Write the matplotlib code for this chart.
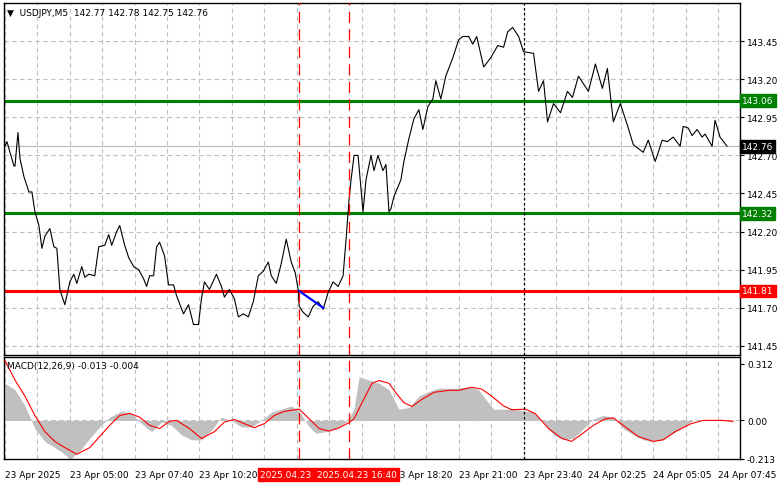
import matplotlib
matplotlib.use("Agg")
import matplotlib.pyplot as plt

# ---- data (x in chart units: 1 unit ~ one 5-minute bar) ----
price_x = [0,1,2.5,4.5,5,6.5,7.5,9.5,12,13.5,15,17,18.5,20,22.5,24.5,26,27.5,30,32.5,34.5,36,38.5,40,42,45,47,50,52,53.5,56,57.5,60,62,64.5,67,69.5,71,72.5,74.5,76,77.5,80,82,84.5,86,89.5,92,94.5,97,98.5,100,102.5,106,108.5,110,112.5,115,117,119.5,122,124.5,127,129.5,132,133.5,136,138.5,141,143.5,145.5,147,147.5,149.5,152,154.5,157,159.5,162,164.5,167,169.5,171,172.5,173.5,175,177,179.5,181,183.5,185,187,189.5,191,192.5,
           193.5,195,198.5,200,202.5,205,207.5,209.5,212,214.5,216,218.5,221,224.5,227.5,229.5,232.5,234.5,236.5,240,243.5,247,250,252,254.5,257.5,260,265,267.5,270,272,275,278.5,282,284.5,287.5,292.5,296,299.5,302,305,308.5,312,315,320,322.5,326,329.5,332,335,338.5,340,342.5,344.5,347,349.5,351,354.5,356,358.5,362]
price_y = [142.76,142.79,142.72,142.63,142.63,142.85,142.68,142.56,142.46,142.46,142.33,142.24,142.09,142.17,142.22,142.10,142.09,141.82,141.72,141.87,141.92,141.86,141.97,141.90,141.92,141.91,142.10,142.11,142.18,142.11,142.20,142.24,142.11,142.03,141.97,141.95,141.89,141.84,141.91,141.91,142.10,142.13,142.04,141.85,141.85,141.78,141.66,141.72,141.59,141.59,141.76,141.87,141.82,141.92,141.84,141.77,141.82,141.76,141.64,141.66,141.64,141.74,141.91,141.94,142.00,141.91,141.86,141.99,142.15,142.00,141.93,141.82,141.71,141.67,141.64,141.71,141.74,141.69,141.80,141.87,141.84,141.91,142.15,142.41,142.54,142.70,142.70,142.33,142.54,142.70,142.60,142.70,142.60,142.64,142.33,
           142.35,142.43,142.54,142.66,142.81,142.94,143.00,142.87,143.02,143.07,143.19,143.07,143.22,143.34,143.46,143.48,143.48,143.43,143.48,143.28,143.34,143.42,143.41,143.51,143.54,143.48,143.38,143.37,143.12,143.19,142.92,143.04,142.98,143.12,143.08,143.22,143.12,143.30,143.14,143.27,142.92,143.04,142.90,142.77,142.72,142.80,142.66,142.80,142.79,142.82,142.76,142.89,142.88,142.83,142.87,142.82,142.84,142.76,142.93,142.82,142.76]

hist_x = [0,5,10,15,20,25,30,32.5,37.5,42.5,47.5,52.5,58.5,63.5,68.5,73.5,78.5,83.5,88.5,93.5,98.5,103.5,108.5,113.5,118.5,123.5,128.5,133.5,138.5,143.5,147.5,152.5,156,161,166,171,175,177.5,182.5,187.5,192.5,197.5,202.5,207.5,212.5,217.5,222.5,227.5,232.5,237.5,241,245,250,255,260,265,270,275,280,285,290,295,300,305,310,315,320,325,330,335,340,345,350,355,360,365]
hist_v = [0.205,0.17,0.08,-0.045,-0.116,-0.15,-0.187,-0.214,-0.169,-0.098,-0.036,0.018,0.053,0.036,-0.018,-0.062,-0.009,-0.027,-0.08,-0.107,-0.107,-0.053,0.018,0.0,-0.036,-0.036,0.0,0.045,0.062,0.08,0.053,-0.036,-0.071,-0.062,-0.045,-0.009,0.062,0.24,0.223,0.205,0.17,0.062,0.071,0.134,0.16,0.178,0.178,0.178,0.187,0.169,0.116,0.062,0.062,0.062,0.053,0.045,-0.009,-0.08,-0.107,-0.098,-0.045,0.009,0.027,0.018,-0.045,-0.08,-0.107,-0.116,-0.107,-0.071,-0.036,0.0,0.0,0.0,0.0,-0.009]

sig_x = [0,5,10,15,20,25,30,36,42.5,47.5,52.5,57.5,62.5,67.5,72.5,77.5,82.5,86,92.5,98.5,105,110,115,120,125,130,135,140,147.5,152.5,157.5,162.5,167.5,172.5,175,179,184,187.5,192.5,196,200,204,209,215,222.5,227.5,234,239,244,250,254,261,266,272.5,279,284,289,295,301,305,311,317.5,325,330,336,344,350,360,365]
sig_v = [0.33,0.223,0.134,0.027,-0.062,-0.116,-0.15,-0.187,-0.15,-0.089,-0.027,0.027,0.039,0.018,-0.027,-0.045,-0.005,0.0,-0.045,-0.1,-0.062,-0.009,0.005,-0.018,-0.04,-0.018,0.027,0.05,0.062,0.009,-0.045,-0.059,-0.041,-0.012,0.009,0.098,0.205,0.22,0.205,0.152,0.098,0.077,0.116,0.155,0.166,0.166,0.183,0.173,0.134,0.08,0.059,0.062,0.036,-0.045,-0.098,-0.116,-0.077,-0.027,0.009,0.014,-0.036,-0.089,-0.116,-0.107,-0.062,-0.018,0.0,0.0,-0.005]

levels = [143.06, 142.32, 141.81]
level_colors = ["#008000", "#008000", "#ff0000"]
last_price = 142.76
price_ticks = [141.45, 141.70, 141.95, 142.20, 142.45, 142.70, 142.95, 143.20, 143.45]
macd_ticks = [0.312, 0.00, -0.213]
time_labels = ["23 Apr 2025", "23 Apr 05:00", "23 Apr 07:40", "23 Apr 10:20", "", "",
               "23 Apr 18:20", "23 Apr 21:00", "23 Apr 23:40", "24 Apr 02:25", "24 Apr 05:05", "24 Apr 07:45"]
marker_x = [147.5, 172.5]
marker_labels = ["2025.04.23", "2025.04.23 16:40"]
now_x = 260
blue_x = [147.5, 159.5]
blue_y = [141.81, 141.70]

XMIN, XMAX = -0.5, 368.5
plt.rcParams["font.family"] = "DejaVu Sans"
fig = plt.figure(figsize=(7.81, 4.89), dpi=100)
ax = fig.add_axes([4/781, 1-356/489, 736/781, 352/489])
ax2 = fig.add_axes([4/781, 1-460/489, 736/781, 102/489])
fs = 6.5
grid_kw = dict(color="#c0c0c0", linestyle=(0, (4, 3)), linewidth=0.8)
vgrid = [16.25 * k for k in range(0, 24)]

for a in (ax, ax2):
    a.set_xlim(XMIN, XMAX)
    for v in vgrid:
        a.axvline(v, zorder=0, **grid_kw)
    for s in a.spines.values():
        s.set_linewidth(1.0)
    a.tick_params(axis="x", length=0, labelbottom=False)
    a.yaxis.tick_right()
    a.tick_params(axis="y", labelsize=fs, length=3, pad=2)

ax.set_ylim(141.39, 143.70)
ax.set_yticks(price_ticks)
ax.set_yticklabels([f"{t:.2f}" for t in price_ticks])
for t in price_ticks:
    ax.axhline(t, zorder=0, **grid_kw)

ax.axhline(last_price, color="#c0c0c0", lw=0.9, zorder=1)
ax.plot(price_x, price_y, color="black", lw=0.8, zorder=3)
for lv, c in zip(levels, level_colors):
    ax.axhline(lv, color=c, lw=2.2, zorder=2)
    ax.text(1.003, lv, f"{lv:.2f}", transform=ax.get_yaxis_transform(), va="center", ha="left",
            fontsize=fs, color="white", bbox=dict(boxstyle="square,pad=0.2", fc=c, ec=c), zorder=5)
ax.text(1.003, last_price, f"{last_price:.2f}", transform=ax.get_yaxis_transform(), va="center", ha="left",
        fontsize=fs, color="white", bbox=dict(boxstyle="square,pad=0.2", fc="black", ec="black"), zorder=5)
ax.plot(blue_x, blue_y, color="blue", lw=1.6, zorder=4)
for a in (ax, ax2):
    for mx in marker_x:
        a.axvline(mx, color="#ff0000", lw=0.9, linestyle=(0, (9, 5)), zorder=4)
    a.axvline(now_x, color="black", lw=0.9, linestyle=(0, (2, 2)), zorder=4)
ax.text(0.004, 0.985, "\u25BC  USDJPY,M5  142.77 142.78 142.75 142.76", transform=ax.transAxes,
        fontsize=fs, va="top", ha="left", color="black")

ax2.set_ylim(-0.208, 0.35)
ax2.set_yticks(macd_ticks)
ax2.set_yticklabels(["0.312", "0.00", "-0.213"])
ax2.axhline(0.0, zorder=0, **grid_kw)
ax2.fill_between(hist_x, 0, hist_v, color="#c0c0c0", lw=0, zorder=1)
ax2.plot(sig_x, sig_v, color="red", lw=0.8, zorder=3)
ax2.text(0.004, 0.96, "MACD(12,26,9) -0.013 -0.004", transform=ax2.transAxes, fontsize=fs, va="top", ha="left")

for k, lab in enumerate(time_labels):
    if lab:
        ax2.text(32.5 * k, -0.15, lab, transform=ax2.get_xaxis_transform(), fontsize=fs, ha="left", va="center")
ax2.text(marker_x[0] - 19.5, -0.15, marker_labels[0] + "  " + marker_labels[1], transform=ax2.get_xaxis_transform(),
         fontsize=fs, ha="left", va="center", color="white",
         bbox=dict(boxstyle="square,pad=0.25", fc="#ff0000", ec="#ff0000"))

fig.savefig("out.png", dpi=100, facecolor="white")
